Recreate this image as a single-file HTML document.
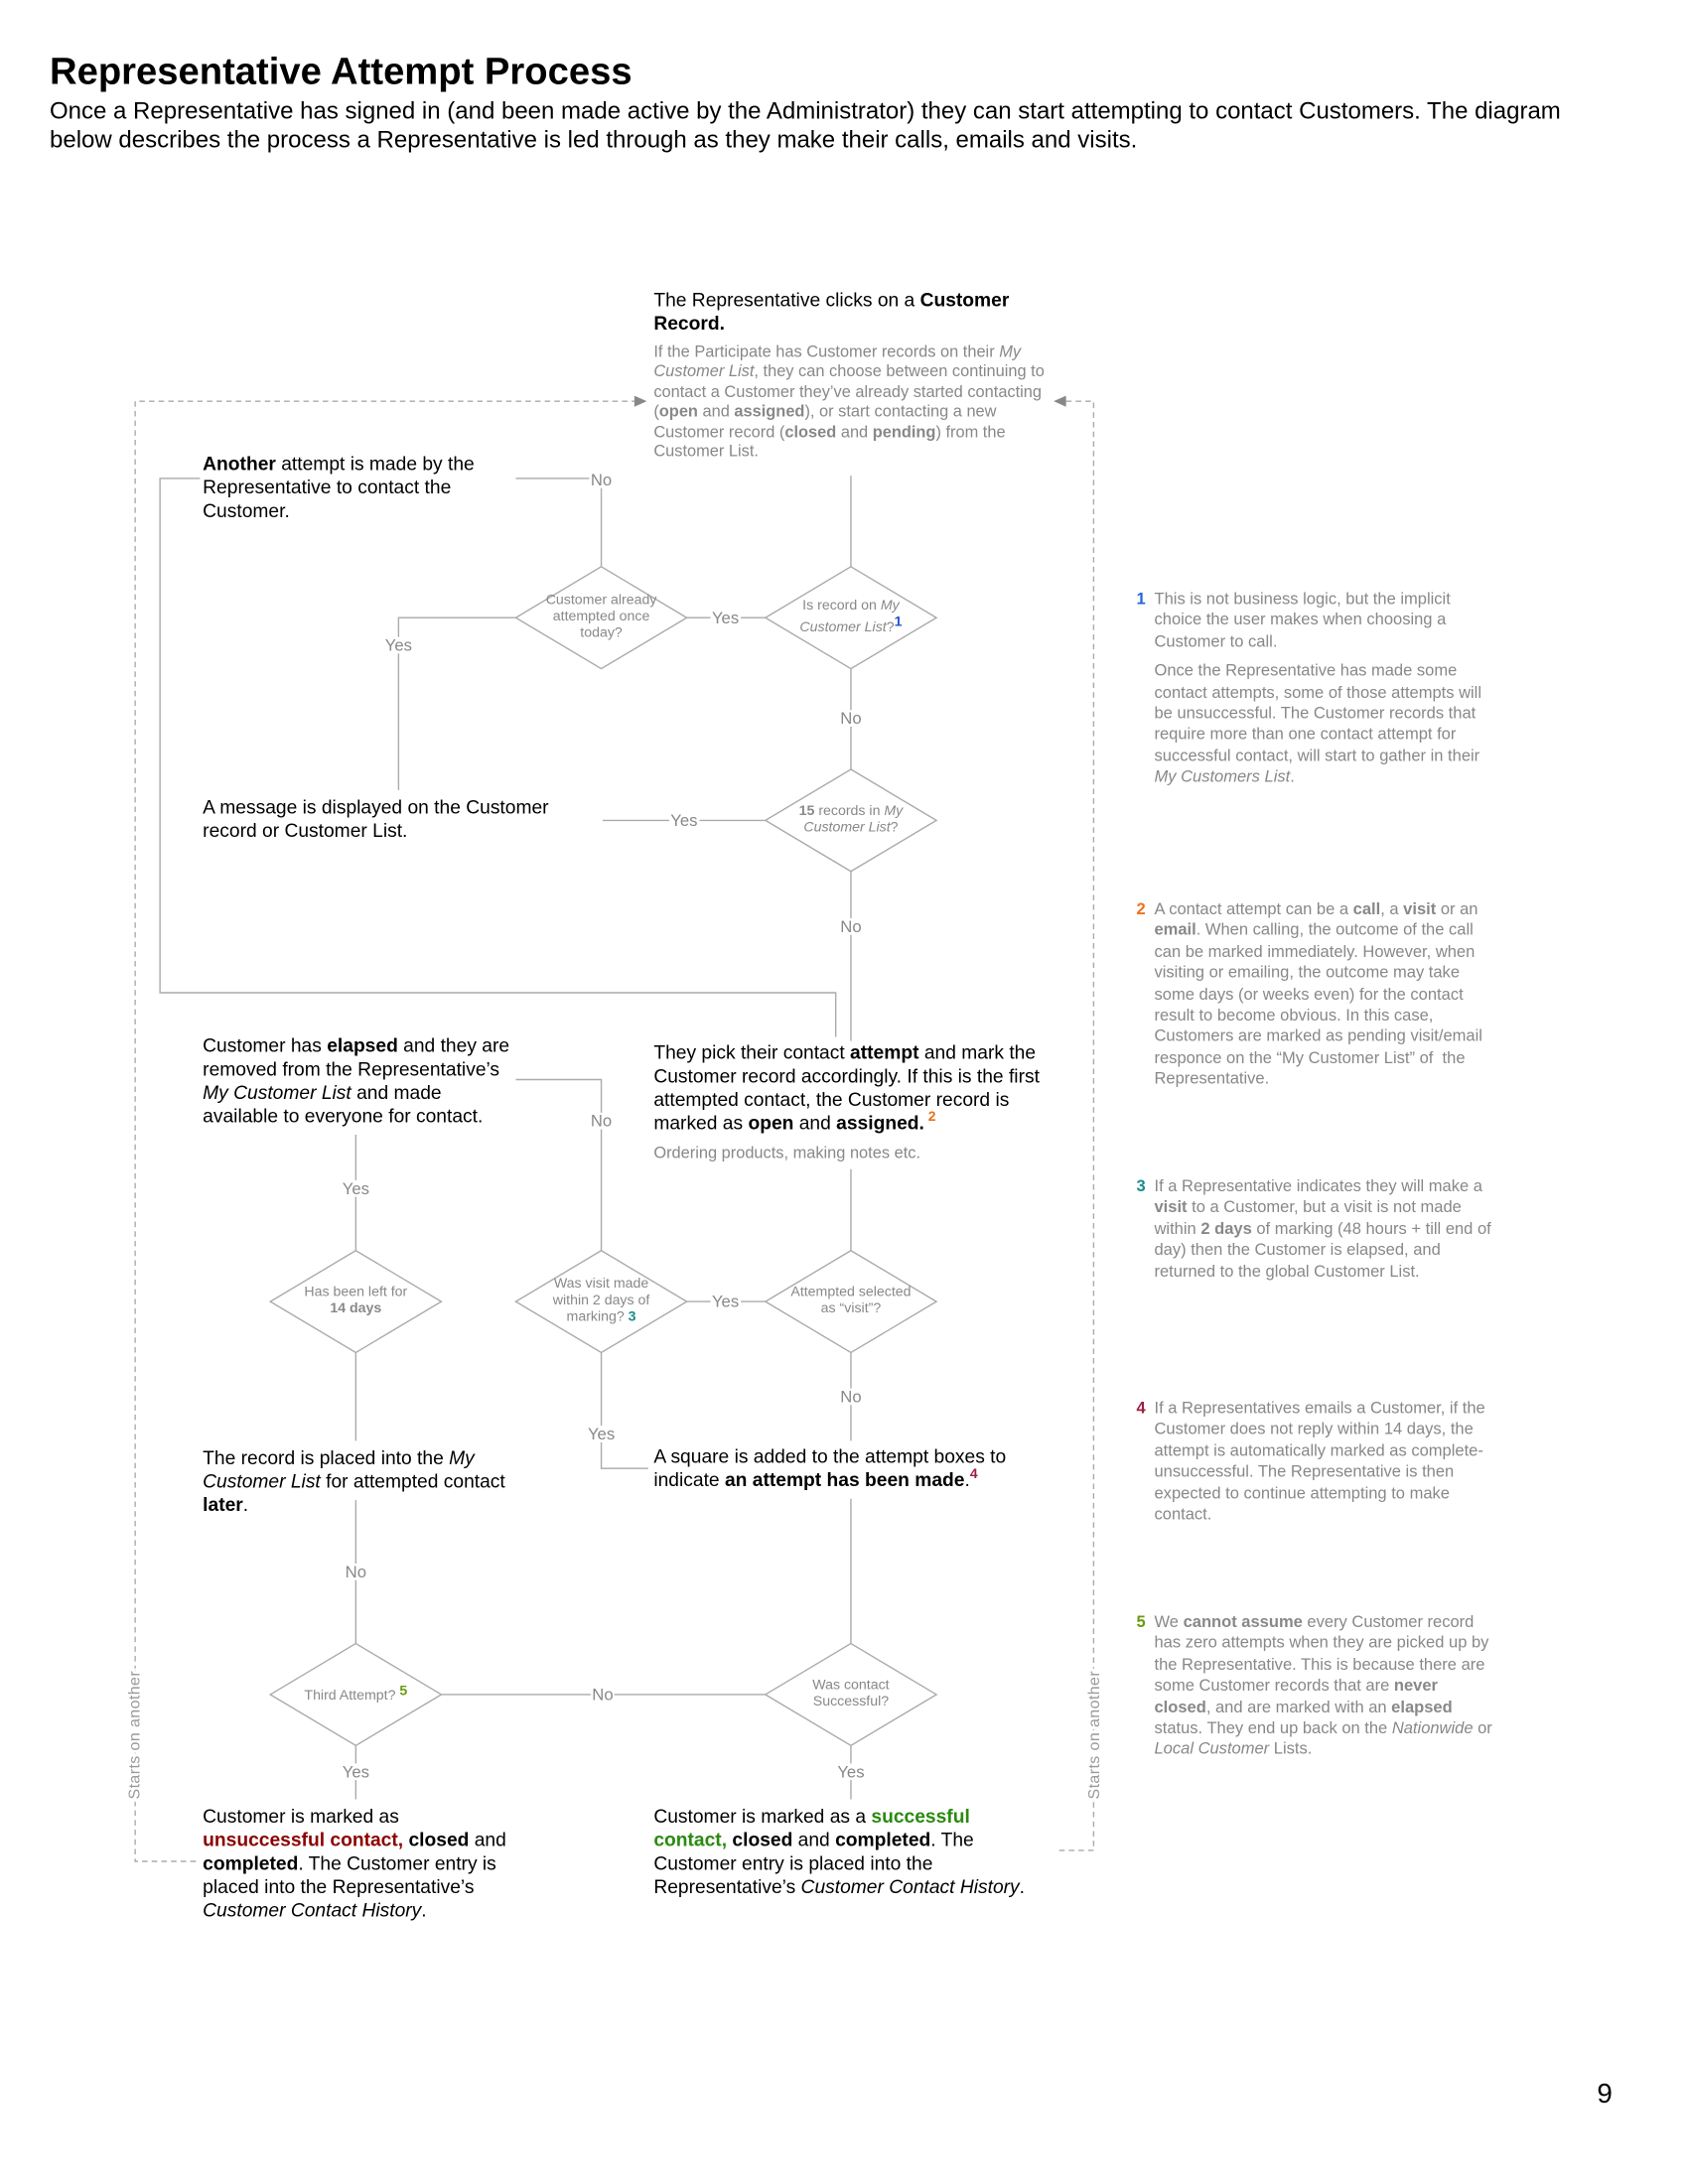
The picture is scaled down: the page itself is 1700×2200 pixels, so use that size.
<!DOCTYPE html>
<html><head><meta charset="utf-8">
<style>
html,body{margin:0;padding:0;background:#fff;}
body{width:1700px;height:2200px;overflow:hidden;position:relative;}
#c{position:absolute;left:0;top:0;width:1224px;height:1584px;transform:scale(1.38889);transform-origin:0 0;font-family:"Liberation Sans",Arial,sans-serif;}
.t{position:absolute;font-size:13.85px;line-height:17px;color:#000;white-space:nowrap;}
.g{position:absolute;font-size:11.8px;line-height:14.4px;color:#888;white-space:nowrap;}
.d{position:absolute;font-size:10.2px;line-height:12px;color:#888;text-align:center;white-space:nowrap;transform:translate(-50%,-50%);}
.l{position:absolute;font-size:12px;line-height:12px;color:#888;background:#fff;padding:0 1px;transform:translate(-50%,-50%);}
.n{position:absolute;font-size:11.9px;line-height:15.4px;color:#888;white-space:nowrap;}
.n b.num{position:absolute;left:-13px;top:0;}
svg{position:absolute;left:0;top:0;}
</style></head><body><div id="c">
<div style="position:absolute;left:36px;top:36px;font-size:27.5px;font-weight:bold;line-height:32px;">Representative Attempt Process</div>
<div style="position:absolute;left:36px;top:70px;font-size:17.3px;line-height:21px;width:1140px;">Once a Representative has signed in (and been made active by the Administrator) they can start attempting to contact Customers. The diagram<br>below describes the process a Representative is led through as they make their calls, emails and visits.</div>

<svg width="1224" height="1584" viewBox="0 0 1224 1584">
<g stroke="#aaa" stroke-width="1" fill="none">
<polygon points="436,411 498,448 436,485 374,448" fill="#fff"/>
<polygon points="617,411 679,448 617,485 555,448" fill="#fff"/>
<polygon points="617,558 679,595 617,632 555,595" fill="#fff"/>
<polygon points="258,907 320,944 258,981 196,944" fill="#fff"/>
<polygon points="436,907 498,944 436,981 374,944" fill="#fff"/>
<polygon points="617,907 679,944 617,981 555,944" fill="#fff"/>
<polygon points="258,1192 320,1229 258,1266 196,1229" fill="#fff"/>
<polygon points="617,1192 679,1229 617,1266 555,1229" fill="#fff"/>
<path d="M617 345V411M498 448H555M436 411V347H374M374 448H289V573M617 485V558M555 595H437M617 632V755M145 347H116V720H606V752"/>
<path d="M617 848V907M555 944H498M436 907V783H374M436 981V1065H470M617 981V1045M258 823V907M258 981V1045M258 1088V1192M617 1087V1192M320 1229H555M258 1266V1305M617 1266V1305"/>
</g>
<g stroke="#aaa" stroke-width="1" fill="none" stroke-dasharray="4,3">
<path d="M462 291H98V1350H145M773 291H793V1342H765"/>
</g>
<polygon points="469,291 460,287 460,295" fill="#888"/>
<polygon points="764,291 773,287 773,295" fill="#888"/>
<text x="0" y="0" transform="translate(101,1305) rotate(-90)" font-family="Liberation Sans, sans-serif" font-size="11.5" fill="#999" style="letter-spacing:0.3px" stroke="#fff" stroke-width="4" paint-order="stroke">Starts on another</text>
<text x="0" y="0" transform="translate(797,1305) rotate(-90)" font-family="Liberation Sans, sans-serif" font-size="11.5" fill="#999" style="letter-spacing:0.3px" stroke="#fff" stroke-width="4" paint-order="stroke">Starts on another</text>
</svg>

<div class="t" style="left:474px;top:209px;">The Representative clicks on a <b>Customer</b><br><b>Record.</b></div>
<div class="g" style="left:474px;top:248px;">If the Participate has Customer records on their <i>My</i><br><i>Customer List</i>, they can choose between continuing to<br>contact a Customer they’ve already started contacting<br>(<b>open</b> and <b>assigned</b>), or start contacting a new<br>Customer record (<b>closed</b> and <b>pending</b>) from the<br>Customer List.</div>
<div class="t" style="left:147px;top:328px;"><b>Another</b> attempt is made by the<br>Representative to contact the<br>Customer.</div>
<div class="t" style="left:147px;top:577px;">A message is displayed on the Customer<br>record or Customer List.</div>
<div class="t" style="left:147px;top:750px;">Customer has <b>elapsed</b> and they are<br>removed from the Representative’s<br><i>My Customer List</i> and made<br>available to everyone for contact.</div>
<div class="t" style="left:474px;top:755px;">They pick their contact <b>attempt</b> and mark the<br>Customer record accordingly. If this is the first<br>attempted contact, the Customer record is<br>marked as <b>open</b> and <b>assigned.</b><sup style="color:#e8701a;font-size:10px;font-weight:bold;vertical-align:6px;line-height:0"> 2</sup></div>
<div class="g" style="left:474px;top:829px;">Ordering products, making notes etc.</div>
<div class="t" style="left:147px;top:1049px;">The record is placed into the <i>My</i><br><i>Customer List</i> for attempted contact<br><b>later</b>.</div>
<div class="t" style="left:474px;top:1048px;">A square is added to the attempt boxes to<br>indicate <b>an attempt has been made</b>.<sup style="color:#9b2040;font-size:10px;font-weight:bold;vertical-align:6px;line-height:0">4</sup></div>
<div class="t" style="left:147px;top:1309px;">Customer is marked as<br><b style="color:#8b0000">unsuccessful contact,</b> <b>closed</b> and<br><b>completed</b>. The Customer entry is<br>placed into the Representative’s<br><i>Customer Contact History</i>.</div>
<div class="t" style="left:474px;top:1309px;">Customer is marked as a <b style="color:#2a8a10">successful</b><br><b style="color:#2a8a10">contact,</b> <b>closed</b> and <b>completed</b>. The<br>Customer entry is placed into the<br>Representative’s <i>Customer Contact History</i>.</div>

<div class="d" style="left:436px;top:448px;">Customer already<br>attempted once<br>today?</div>
<div class="d" style="left:617px;top:448px;">Is record on <i>My</i><br><i>Customer List</i>?<span style="color:#2255cc;font-weight:bold;vertical-align:4px">1</span></div>
<div class="d" style="left:617px;top:595px;"><b>15</b> records in <i>My</i><br><i>Customer List</i>?</div>
<div class="d" style="left:258px;top:944px;">Has been left for<br><b>14 days</b></div>
<div class="d" style="left:436px;top:944px;">Was visit made<br>within 2 days of<br>marking?<b style="color:#1a8a8a"> 3</b></div>
<div class="d" style="left:617px;top:944px;">Attempted selected<br>as “visit”?</div>
<div class="d" style="left:258px;top:1229px;">Third Attempt?<b style="color:#6a9a10;vertical-align:3px"> 5</b></div>
<div class="d" style="left:617px;top:1229px;">Was contact<br>Successful?</div>

<div class="l" style="left:436px;top:348px;">No</div>
<div class="l" style="left:526px;top:448px;">Yes</div>
<div class="l" style="left:289px;top:468px;">Yes</div>
<div class="l" style="left:617px;top:521px;">No</div>
<div class="l" style="left:496px;top:595px;">Yes</div>
<div class="l" style="left:617px;top:672px;">No</div>
<div class="l" style="left:436px;top:813px;">No</div>
<div class="l" style="left:258px;top:862px;">Yes</div>
<div class="l" style="left:526px;top:944px;">Yes</div>
<div class="l" style="left:617px;top:1013px;">No</div>
<div class="l" style="left:436px;top:1040px;">Yes</div>
<div class="l" style="left:258px;top:1140px;">No</div>
<div class="l" style="left:437px;top:1229px;">No</div>
<div class="l" style="left:258px;top:1285px;">Yes</div>
<div class="l" style="left:617px;top:1285px;">Yes</div>

<div class="n" style="left:837px;top:427px;"><b class="num" style="color:#2266dd">1</b>This is not business logic, but the implicit<br>choice the user makes when choosing a<br>Customer to call.<div style="height:6px"></div>Once the Representative has made some<br>contact attempts, some of those attempts will<br>be unsuccessful. The Customer records that<br>require more than one contact attempt for<br>successful contact, will start to gather in their<br><i>My Customers List</i>.</div>
<div class="n" style="left:837px;top:652px;"><b class="num" style="color:#f07020">2</b>A contact attempt can be a <b>call</b>, a <b>visit</b> or an<br><b>email</b>. When calling, the outcome of the call<br>can be marked immediately. However, when<br>visiting or emailing, the outcome may take<br>some days (or weeks even) for the contact<br>result to become obvious. In this case,<br>Customers are marked as pending visit/email<br>responce on the “My Customer List” of &nbsp;the<br>Representative.</div>
<div class="n" style="left:837px;top:853px;"><b class="num" style="color:#1a8a8a">3</b>If a Representative indicates they will make a<br><b>visit</b> to a Customer, but a visit is not made<br>within <b>2 days</b> of marking (48 hours + till end of<br>day) then the Customer is elapsed, and<br>returned to the global Customer List.</div>
<div class="n" style="left:837px;top:1014px;"><b class="num" style="color:#9b2040">4</b>If a Representatives emails a Customer, if the<br>Customer does not reply within 14 days, the<br>attempt is automatically marked as complete-<br>unsuccessful. The Representative is then<br>expected to continue attempting to make<br>contact.</div>
<div class="n" style="left:837px;top:1169px;"><b class="num" style="color:#6a9a10">5</b>We <b>cannot assume</b> every Customer record<br>has zero attempts when they are picked up by<br>the Representative. This is because there are<br>some Customer records that are <b>never</b><br><b>closed</b>, and are marked with an <b>elapsed</b><br>status. They end up back on the <i>Nationwide</i> or<br><i>Local Customer</i> Lists.</div>

<div style="position:absolute;left:1158px;top:1507px;font-size:20px;line-height:24px;">9</div>
</div></body></html>
